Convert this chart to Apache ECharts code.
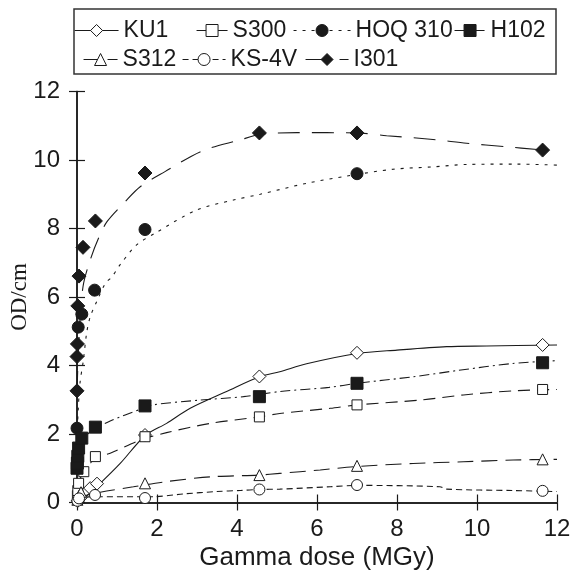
<!DOCTYPE html>
<html>
<head>
<meta charset="utf-8">
<script src="https://cdn.jsdelivr.net/npm/echarts@6/dist/echarts.min.js"></script>
<style>
  html, body { margin: 0; padding: 0; background: #fff; }
  #chart { width: 574px; height: 570px; }
</style>
</head>
<body>
<div id="chart"></div>
<script>
// axis ticks
var xTicks = [0, 2, 4, 6, 8, 10, 12];
var yTicks = [0, 2, 4, 6, 8, 10, 12];

// measured points [dose MGy, OD/cm]
var ku1Points  = [[0.02, 0.05], [0.1, 0.15], [0.33, 0.42], [0.5, 0.55], [1.7, 1.97], [4.56, 3.68], [7, 4.37], [11.64, 4.6]];
var s300Points = [[0.01, 0.2], [0.02, 0.35], [0.04, 0.56], [0.17, 0.9], [0.46, 1.34], [1.7, 1.92], [4.56, 2.5], [7, 2.85], [11.64, 3.3]];
var hoqPoints  = [[0.0, 2.17], [0.03, 5.12], [0.12, 5.5], [0.44, 6.2], [1.7, 7.97], [7, 9.6]];
var h102Points = [[0.0, 1.0], [0.01, 1.15], [0.02, 1.35], [0.04, 1.59], [0.12, 1.88], [0.46, 2.2], [1.7, 2.82], [4.56, 3.09], [7, 3.48], [11.64, 4.08]];
var s312Points = [[0.01, 0.08], [0.05, 0.2], [0.1, 0.3], [1.7, 0.56], [4.56, 0.8], [7, 1.07], [11.64, 1.26]];
var ks4vPoints = [[0.01, 0.05], [0.05, 0.12], [0.45, 0.22], [1.7, 0.13], [4.56, 0.38], [7, 0.51], [11.64, 0.34]];
var i301Points = [[0.0, 3.26], [0.0, 4.26], [0.01, 4.63], [0.02, 5.74], [0.05, 6.61], [0.15, 7.45], [0.46, 8.22], [1.7, 9.62], [4.56, 10.79], [7, 10.79], [11.64, 10.29]];

// fitted curves as drawn in the figure
var ku1Curve  = [[0, 0], [0.1, 0.05], [0.58, 0.56], [1.08, 1.14], [1.7, 1.95], [2.24, 2.31], [2.83, 2.75], [3.74, 3.24], [4.56, 3.67], [5.07, 3.82], [5.74, 4.05], [7, 4.35], [8, 4.45], [9.24, 4.55], [10.24, 4.57], [12, 4.6]];
var s300Curve = [[0, 0.15], [0.05, 0.55], [0.15, 0.9], [0.33, 1.14], [0.46, 1.3], [0.83, 1.44], [1.58, 1.82], [2.24, 2.04], [3.33, 2.31], [4.56, 2.5], [5.07, 2.6], [6.33, 2.75], [7, 2.85], [8.58, 2.99], [9.66, 3.14], [10.9, 3.26], [12, 3.3]];
var hoqCurve  = [[0, 1.9], [0.03, 2.7], [0.075, 3.49], [0.16, 4.16], [0.24, 4.94], [0.33, 5.42], [0.49, 5.86], [0.71, 6.4], [0.875, 6.59], [1.07, 6.93], [1.49, 7.52], [1.95, 7.86], [2.99, 8.54], [3.91, 8.83], [4.58, 9.0], [5.74, 9.32], [6.74, 9.53], [7.9, 9.73], [8.9, 9.8], [9.74, 9.87], [11, 9.88], [12, 9.85]];
var h102Curve = [[0, 0.9], [0.05, 1.45], [0.12, 1.75], [0.24, 1.97], [0.41, 2.12], [0.83, 2.38], [1.58, 2.72], [1.9, 2.85], [3.07, 2.99], [4.16, 3.09], [5.07, 3.24], [6.3, 3.36], [7, 3.48], [8.4, 3.67], [9.49, 3.85], [10.9, 4.06], [12, 4.14]];
var s312Curve = [[0, 0.05], [0.15, 0.18], [0.58, 0.3], [1.41, 0.46], [2.24, 0.61], [3.33, 0.75], [4.56, 0.8], [5.07, 0.85], [6.08, 0.95], [7, 1.05], [8.4, 1.14], [9.66, 1.19], [10.9, 1.24], [12, 1.26]];
var ks4vCurve = [[0, 0.15], [0.5, 0.17], [1.9, 0.17], [2.66, 0.25], [3.49, 0.32], [4.08, 0.35], [4.56, 0.38], [5.07, 0.39], [6.33, 0.46], [7, 0.5], [9.07, 0.46], [9.24, 0.39], [10.9, 0.35], [12, 0.32]];
var i301Curve = [[0, 3.2], [0.05, 4.8], [0.15, 6.3], [0.33, 7.08], [0.54, 7.72], [0.75, 8.2], [1.2, 8.78], [1.58, 9.22], [2.2, 9.66], [3.12, 10.26], [4.06, 10.58], [4.6, 10.75], [5.5, 10.8], [7, 10.79], [7.74, 10.71], [8.9, 10.6], [9.74, 10.49], [10.7, 10.39], [11.64, 10.29]];

var ink = '#1a1a1a';
var sans = 'Liberation Sans, Arial, sans-serif';

// name, points, curve, symbol, filled, size, dash, legend left, legend icon width, legend top
var sets = [
    ['KU1',     ku1Points,  ku1Curve,  'diamond', false, 13, 'solid',        74,  44, 19],
    ['S300',    s300Points, s300Curve, 'rect',    false, 10, [12, 7],        196, 31, 19],
    ['HOQ 310', hoqPoints,  hoqCurve,  'circle',  true,  12, [3, 6],         293, 57, 19],
    ['H102',    h102Points, h102Curve, 'rect',    true,  12, [10, 4, 2, 4],  454, 31, 19],
    ['S312',    s312Points, s312Curve, 'triangle',false, 11, [16, 8],        83,  34, 48],
    ['KS-4V',   ks4vPoints, ks4vCurve, 'circle',  false, 11, [6, 4],         182, 43, 48],
    ['I301',    i301Points, i301Curve, 'diamond', true,  14, [22, 12],       305, 43, 48]
];

var series = [];
var legends = [];
sets.forEach(function (s) {
    var fill = s[4] ? ink : '#fff';
    series.push({
        name: s[0],
        type: 'line',
        data: s[2],
        showSymbol: false,
        symbol: s[3],
        symbolSize: s[5],
        smooth: 0.3,
        lineStyle: { color: ink, width: 1.1, type: s[6] },
        itemStyle: { color: fill, borderColor: ink, borderWidth: 1 },
        z: 2,
        silent: true
    });
    series.push({
        name: s[0],
        type: 'scatter',
        data: s[1],
        symbol: s[3],
        symbolSize: s[5],
        itemStyle: { color: fill, borderColor: ink, borderWidth: 1, opacity: 1 },
        z: 3
    });
    legends.push({
        data: [{
            name: s[0],
            itemStyle: { color: fill, borderColor: ink, borderWidth: 1 },
            lineStyle: { color: ink, width: 1.1, type: s[6] }
        }],
        left: s[7],
        top: s[9],
        padding: 0,
        itemWidth: s[8],
        itemHeight: 15,
        selectedMode: false,
        textStyle: { fontFamily: sans, fontSize: 23, color: ink }
    });
});

var chart = echarts.init(document.getElementById('chart'));
chart.setOption({
    animation: false,
    backgroundColor: '#fff',
    grid: { left: 77, top: 91.5, width: 480, height: 411, outerBoundsMode: 'none', containLabel: false },
    legend: legends,
    graphic: [{
        type: 'rect',
        shape: { x: 74, y: 9, width: 482, height: 65 },
        style: { fill: 'none', stroke: '#333', lineWidth: 1.5 },
        z: 100
    }],
    xAxis: [{
        type: 'value',
        min: xTicks[0],
        max: xTicks[xTicks.length - 1],
        interval: xTicks[1] - xTicks[0],
        name: 'Gamma dose (MGy)',
        nameLocation: 'middle',
        nameGap: 42,
        nameMoveOverlap: false,
        nameTextStyle: { fontFamily: sans, fontSize: 26, color: ink },
        axisLine: { lineStyle: { color: ink, width: 1.5 } },
        axisTick: { inside: true, length: 8, lineStyle: { color: ink, width: 1.2 } },
        axisLabel: { fontFamily: sans, fontSize: 24, color: ink, margin: 15 },
        splitLine: { show: false }
    }, {
        type: 'value',
        position: 'top',
        min: xTicks[0],
        max: xTicks[xTicks.length - 1],
        interval: xTicks[1] - xTicks[0],
        axisLine: { lineStyle: { color: ink, width: 1.5 } },
        axisTick: { inside: true, length: 8, lineStyle: { color: ink, width: 1.2 } },
        axisLabel: { show: false },
        splitLine: { show: false }
    }],
    yAxis: [{
        type: 'value',
        min: yTicks[0],
        max: yTicks[yTicks.length - 1],
        interval: yTicks[1] - yTicks[0],
        name: 'OD/cm',
        nameLocation: 'middle',
        nameGap: 46,
        nameMoveOverlap: false,
        nameTextStyle: { fontFamily: 'Liberation Serif, Times New Roman, serif', fontSize: 23, color: ink },
        axisLine: { lineStyle: { color: ink, width: 1.5 } },
        axisTick: { inside: true, length: 8, lineStyle: { color: ink, width: 1.2 } },
        axisLabel: { fontFamily: sans, fontSize: 24, color: ink, margin: 17 },
        splitLine: { show: false }
    }, {
        type: 'value',
        position: 'right',
        min: yTicks[0],
        max: yTicks[yTicks.length - 1],
        interval: yTicks[1] - yTicks[0],
        axisLine: { lineStyle: { color: ink, width: 1.5 } },
        axisTick: { inside: true, length: 8, lineStyle: { color: ink, width: 1.2 } },
        axisLabel: { show: false },
        splitLine: { show: false }
    }],
    series: series
});
</script>
</body>
</html>
